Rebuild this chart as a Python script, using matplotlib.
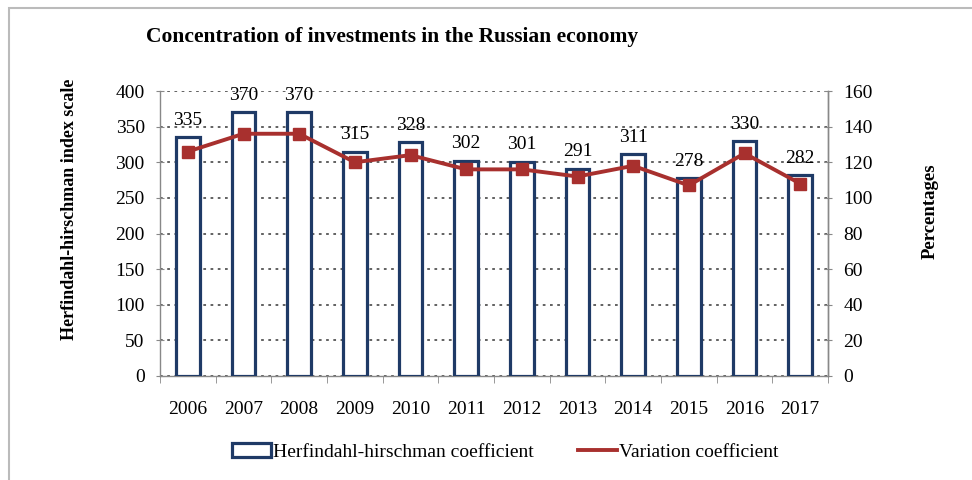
import matplotlib.pyplot as plt
from matplotlib.patches import Rectangle
from matplotlib.lines import Line2D

plt.rcParams['font.family'] = ['Liberation Serif', 'DejaVu Serif']

years = ['2006', '2007', '2008', '2009', '2010', '2011',
         '2012', '2013', '2014', '2015', '2016', '2017']
hhi = [335, 370, 370, 315, 328, 302, 301, 291, 311, 278, 330, 282]
variation = [126, 136, 136, 120, 124, 116, 116, 112, 118, 107, 125, 108]

navy = '#1F3A66'
red = '#A8302E'

fig = plt.figure(figsize=(9.72, 4.8), dpi=100)
ax = fig.add_axes([160 / 972, 1 - 376 / 480, (828 - 160) / 972, (376 - 91) / 480])
ax2 = ax.twinx()

x = list(range(len(years)))
ax.bar(x, hhi, width=0.42, facecolor='white', edgecolor=navy, linewidth=2.3, zorder=3)
for xi, v in zip(x, hhi):
    ax.annotate(str(v), (xi, v), xytext=(0, 6), textcoords='offset points',
                ha='center', va='bottom', fontsize=14, zorder=5)

ax2.plot(x, variation, color=red, linewidth=2.8, marker='s', markersize=8, zorder=4)

ax.set_xlim(-0.5, len(years) - 0.5)
ax.set_ylim(0, 400)
ax.set_yticks(range(0, 401, 50))
ax2.set_ylim(0, 160)
ax2.set_yticks(range(0, 161, 20))

ax.grid(axis='y', linestyle=(0, (1.5, 2.5)), color='#555555', linewidth=1.3, zorder=0)
ax.set_axisbelow(True)

ax.set_xticks(x)
ax.set_xticklabels(years, fontsize=14)
ax.set_xticks([i - 0.5 for i in range(len(years) + 1)], minor=True)
ax.tick_params(axis='x', which='major', length=0, pad=18)
ax.tick_params(axis='x', which='minor', length=5, color='#888888', direction='out')
ax.tick_params(axis='y', labelsize=14, length=6, direction='inout', color='#888888', pad=8)
ax2.tick_params(axis='y', labelsize=14, length=6, direction='inout', color='#888888', pad=8)

for a in (ax, ax2):
    a.spines['top'].set_visible(False)
    for s in ('left', 'right', 'bottom'):
        a.spines[s].set_color('#888888')
        a.spines[s].set_linewidth(1.0)
ax2.spines['left'].set_visible(False)
ax2.spines['bottom'].set_visible(False)

ax.set_ylabel('Herfindahl-hirschman index scale', fontsize=13, fontweight='bold')
ax.yaxis.set_label_coords(-0.123, 0.585)
ax2.set_ylabel('Percentages', fontsize=13.5, fontweight='bold')
ax2.yaxis.set_label_coords(1.14, 0.58)

fig.text(392 / 972, 1 - 37 / 480, 'Concentration of investments in the Russian economy',
         ha='center', va='center', fontsize=15.5, fontweight='bold')

handles = [Rectangle((0, 0), 1, 1, facecolor='white', edgecolor=navy, linewidth=2.3),
           Line2D([0], [0], color=red, linewidth=2.8)]
fig.legend(handles, ['Herfindahl-hirschman coefficient', 'Variation coefficient'],
           loc='center', bbox_to_anchor=(505 / 972, 1 - 452 / 480), ncol=2, frameon=False,
           fontsize=14, handlelength=2.0, handletextpad=0.1, columnspacing=2.3)

# light frame around the picture
fig.add_artist(Rectangle((9 / 972, -0.01), 1.1, 1 - 8 / 480 + 0.01, transform=fig.transFigure,
                         fill=False, edgecolor='#BBBBBB', linewidth=1.5))

fig.savefig('out.png', dpi=100)
